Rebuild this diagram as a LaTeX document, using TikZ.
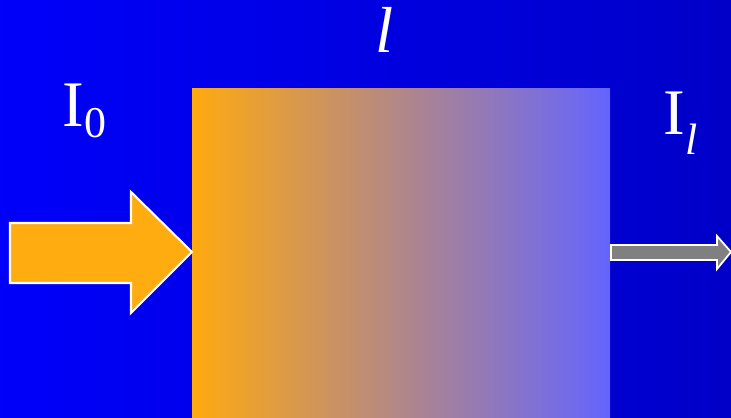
\documentclass[tikz,border=0pt]{standalone}
\usepackage{fontspec}
\setmainfont{Liberation Serif}
\usetikzlibrary{positioning}

\definecolor{bgleft}{RGB}{0,0,250}
\definecolor{bgright}{RGB}{0,0,200}
\definecolor{slableft}{RGB}{255,170,17}
\definecolor{slabright}{RGB}{100,100,255}
\definecolor{beamin}{RGB}{255,172,17}
\definecolor{beamout}{RGB}{128,128,128}

\begin{document}
\begin{tikzpicture}[
    big/.style={text=white, inner sep=0pt, anchor=base west, font=\fontsize{37}{40}\selectfont},
    beam/.style={draw=white, line width=1.2pt, line join=miter},
]

% -------------------------
% Background
% -------------------------
\shade[left color=bgleft, right color=bgright] (0,0) rectangle (14.62,8.34);
\useasboundingbox (0,0) rectangle (14.62,8.34);

% -------------------------
% Absorbing slab
% -------------------------
\shade[left color=slableft, right color=slabright] (3.84,0) rectangle (12.2,6.56);
\coordinate (slabin) at (3.84,3.30);
\coordinate (slabout) at (12.2,3.30);

% -------------------------
% Beams
% -------------------------
% Incident intensity
\draw[beam, fill=beamin] (0.2,3.88) -- (2.62,3.88) -- (2.62,4.50) -- (slabin)
    -- (2.62,2.08) -- (2.62,2.68) -- (0.2,2.68) -- cycle;
% Transmitted intensity
\draw[beam, fill=beamout, line width=1pt] (12.22,3.44) -- (14.34,3.44) -- (14.34,3.62)
    -- (14.62,3.30) -- (14.34,2.96) -- (14.34,3.14) -- (12.22,3.14) -- cycle;

% -------------------------
% Labels
% -------------------------
\node (incident) [big] at (1.24,5.80) {I\raisebox{-0.16em}{\fontsize{25}{25}\selectfont 0}};
\node (length) [big] at (7.50,7.28) {\textit{l}};
\node (transmitted) [big] at (13.26,5.64) {I\raisebox{-0.3em}{\fontsize{25}{25}\selectfont\textit{l}}};

\end{tikzpicture}
\end{document}
